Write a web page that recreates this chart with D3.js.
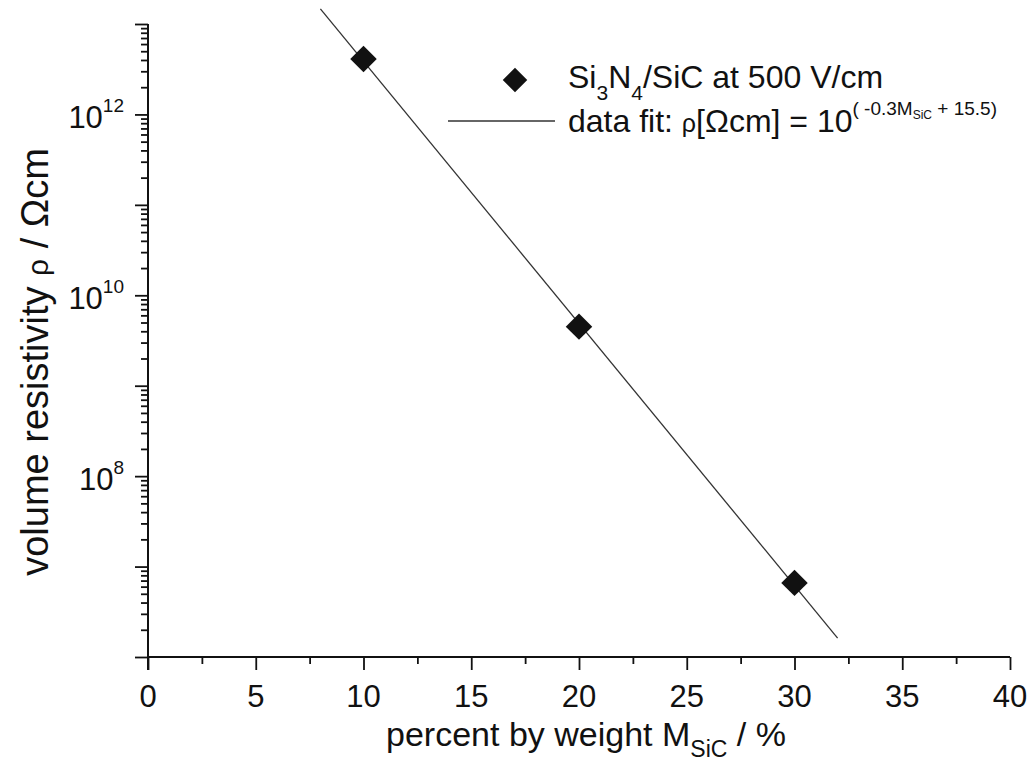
<!DOCTYPE html>
<html><head><meta charset="utf-8">
<script src="https://cdn.jsdelivr.net/npm/d3@7"></script>
<style>
body{margin:0;background:#fff}
text{font-family:Arial,"Liberation Sans",Helvetica,sans-serif;fill:#111}
</style>
</head><body>
<svg id="c" width="1029" height="771"></svg>
<script>
// ---- data ----
const massPercent = [10, 20, 30];                 // M_SiC / %
const resistivity = [4.1e12, 4.5e9, 6.6e6];       // rho / Ohm cm
const fitX = [8, 32];                             // fit line end points (x)
const fitY = [1.47e13, 1.62e6];                   // fit line end points (y)
const xTickValues = [0, 5, 10, 15, 20, 25, 30, 35, 40];
const xMinorValues = [2.5, 7.5, 12.5, 17.5, 22.5, 27.5, 32.5, 37.5];
const yDecades = [6, 7, 8, 9, 10, 11, 12, 13];
const yLabelExponents = ["8", "10", "12"];

const svg = d3.select("#c");
const x = d3.scaleLinear().domain([0, 40]).range([148, 1010]);
const y = d3.scaleLog().domain([1e6, 1e13]).range([657, 24]);
const X0 = 148, Y0 = 657;

// minor y ticks
const yMinor = [];
yDecades.slice(0, -1).forEach(d => { for (let k = 2; k <= 9; k++) yMinor.push(k * Math.pow(10, d)); });

const axisColor = "#111";
// y axis
const gy = svg.append("g").attr("transform", `translate(${X0},0)`);
gy.call(d3.axisLeft(y).tickValues(yDecades.map(d => Math.pow(10, d))).tickSize(13).tickFormat(""));
gy.append("g").call(d3.axisLeft(y).tickValues(yMinor).tickSize(7).tickFormat(""));
gy.selectAll("path.domain").remove();
gy.selectAll("line").attr("stroke", axisColor).attr("stroke-width", 1.8);
gy.append("line").attr("x1", 0).attr("x2", 0).attr("y1", y(1e13)).attr("y2", Y0 + 13)
  .attr("stroke", axisColor).attr("stroke-width", 2);

// y tick labels 10^n
yLabelExponents.forEach(e => {
  const t = svg.append("text").attr("x", 124).attr("y", y(Math.pow(10, +e)) + 14)
    .attr("text-anchor", "end").attr("font-size", 31);
  t.append("tspan").text("10");
  t.append("tspan").attr("font-size", 19).attr("dy", -16).text(e);
});

// x axis
const gx = svg.append("g").attr("transform", `translate(0,${Y0})`);
gx.call(d3.axisBottom(x).tickValues(xTickValues).tickSize(13).tickFormat(""));
gx.append("g").call(d3.axisBottom(x).tickValues(xMinorValues).tickSize(7).tickFormat(""));
gx.selectAll("path.domain").remove();
gx.selectAll("line").attr("stroke", axisColor).attr("stroke-width", 1.8);
gx.append("line").attr("x1", X0).attr("x2", x(40)).attr("y1", 0).attr("y2", 0)
  .attr("stroke", axisColor).attr("stroke-width", 2);
xTickValues.forEach(v => {
  svg.append("text").attr("x", x(v)).attr("y", 707).attr("text-anchor", "middle")
    .attr("font-size", 31).text(v);
});

// axis titles
const xt = svg.append("text").attr("x", 586).attr("y", 746).attr("text-anchor", "middle").attr("font-size", 34);
xt.append("tspan").text("percent by weight M");
xt.append("tspan").attr("font-size", 23).attr("dy", 11).text("SiC");
xt.append("tspan").attr("dy", -11).text(" / %");

const yt = svg.append("text").attr("transform", "translate(48,362) rotate(-90)")
  .attr("text-anchor", "middle").attr("font-size", 38);
yt.append("tspan").text("volume resistivity ");
yt.append("tspan").attr("font-size", 30).text("ρ");
yt.append("tspan").text(" / Ωcm");

// fit line
const line = d3.line().x((d, i) => x(fitX[i])).y((d, i) => y(fitY[i]));
svg.append("path").datum(fitX).attr("d", line).attr("fill", "none")
  .attr("stroke", "#333").attr("stroke-width", 1.3);

// data points
const diamond = d3.symbol().type(d3.symbolSquare).size(350);
svg.selectAll("path.pt").data(massPercent).join("path").attr("class", "pt")
  .attr("d", diamond)
  .attr("transform", (d, i) => `translate(${x(d)},${y(resistivity[i])}) rotate(45)`)
  .attr("fill", "#111");

// legend
svg.append("path").attr("d", d3.symbol().type(d3.symbolSquare).size(300))
  .attr("transform", "translate(515,80) rotate(45)").attr("fill", "#111");
const l1 = svg.append("text").attr("x", 568).attr("y", 88).attr("font-size", 32);
l1.append("tspan").text("Si");
l1.append("tspan").attr("font-size", 21).attr("dy", 12).text("3");
l1.append("tspan").attr("dy", -12).text("N");
l1.append("tspan").attr("font-size", 21).attr("dy", 12).text("4");
l1.append("tspan").attr("dy", -12).text("/SiC at 500 V/cm");

svg.append("line").attr("x1", 448).attr("x2", 555).attr("y1", 121).attr("y2", 121)
  .attr("stroke", "#333").attr("stroke-width", 1.3);
const l2 = svg.append("text").attr("x", 568).attr("y", 132).attr("font-size", 32);
l2.append("tspan").text("data fit: ");
l2.append("tspan").attr("font-size", 25).text("ρ");
l2.append("tspan").text("[Ωcm] = 10");
l2.append("tspan").attr("font-size", 19).attr("dy", -17).text("( -0.3M");
l2.append("tspan").attr("font-size", 12).attr("dy", 4).text("SiC");
l2.append("tspan").attr("font-size", 19).attr("dy", -4).text(" + 15.5)");
</script>
</body></html>
